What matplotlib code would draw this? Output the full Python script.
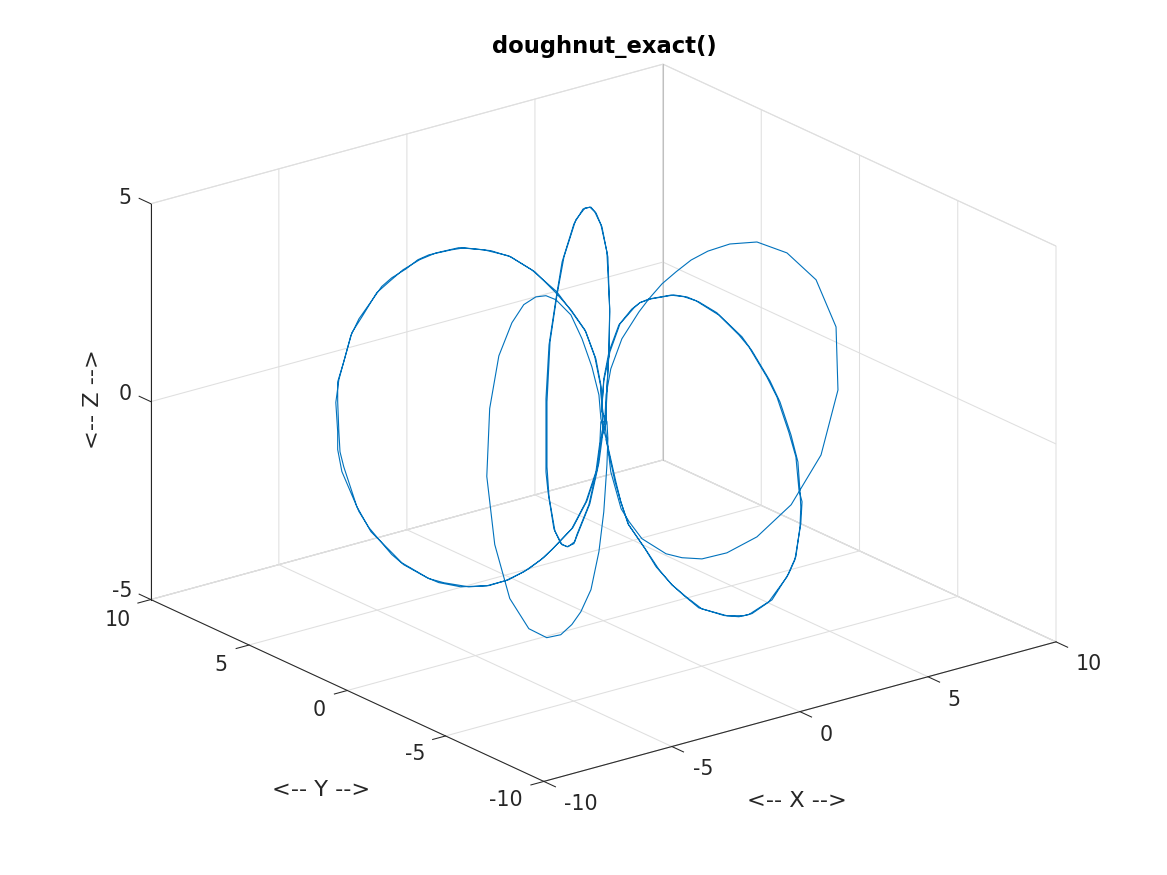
import matplotlib
matplotlib.use('Agg')
import matplotlib.pyplot as plt
from matplotlib.ticker import FixedLocator
from matplotlib.transforms import ScaledTranslation

plt.rcParams['axes.unicode_minus'] = False
plt.rcParams['font.family'] = 'DejaVu Sans'

x_values = [
 -0.04,-0.07,-0.20,-0.47,-0.85,-1.25,-1.92,-2.48,-3.02,-3.74,-4.09,-4.68,-4.98,-5.30,-5.68,-5.95,-6.56,-6.78,-7.10,-7.18,-7.13,-7.13,-7.02,-6.56,-6.29,-5.68,-5.36,-4.74,-4.42,-3.83,-3.13,-2.62,-2.13,-1.68,-1.38,-0.85,-0.47,-0.20,-0.09,-0.07,
 -0.15,-0.21,-0.33,-0.39,-0.21,0.15,0.50,0.80,1.22,1.75,2.47,2.82,3.24,3.42,3.42,3.30,2.94,2.52,2.17,1.75,1.57,0.86,0.33,0.09,
 0.05,0.09,0.25,0.63,1.21,1.55,1.99,2.47,2.98,3.55,4.30,5.22,6.24,7.23,7.91,7.97,7.40,6.38,5.22,4.20,3.35,2.67,2.13,1.31,0.87,0.60,0.25,0.12,
 -0.01,0.00,0.04,0.10,0.18,0.24,0.29,0.43,0.52,0.60,0.74,0.87,0.94,1.05,1.12,1.19,1.24,1.26,1.28,1.27,1.23,1.19,1.09,0.96,0.90,0.80,0.63,0.53,0.44,0.36,0.27,0.16,0.11,0.08,0.02,
 -0.16,-0.29,-0.74,-1.38,-2.09,-3.06,-3.70,-4.35,-5.12,-5.89,-6.73,-7.31,-7.50,-6.99,-6.02,-4.80,-3.64,-2.74,-2.03,-1.45,-0.80,-0.29,0.03,0.23,0.29,0.23,
 -0.04,-0.07,-0.23,-0.50,-0.87,-1.30,-1.84,-2.54,-3.21,-3.88,-4.50,-4.93,-5.38,-5.76,-6.08,-6.48,-6.75,-6.97,-7.13,-7.13,-7.10,-7.07,-6.97,-6.62,-6.24,-5.65,-5.41,-4.68,-4.28,-3.61,-3.07,-2.54,-2.00,-1.60,-1.33,-0.82,-0.44,-0.17,-0.07,
 -0.15,-0.21,-0.33,-0.39,-0.27,0.09,0.45,0.74,1.10,1.63,2.35,2.76,3.18,3.36,3.36,3.24,2.88,2.47,2.11,1.69,1.51,0.80,0.27,0.03,
 -0.01,0.00,0.04,0.11,0.20,0.24,0.31,0.45,0.54,0.61,0.73,0.89,0.96,1.07,1.14,1.21,1.25,1.27,1.27,1.27,1.24,1.18,1.07,0.94,0.87,0.78,0.61,0.52,0.44,0.34,0.27,0.16,0.11,0.07,0.02]
y_values = [
 0.02,0.04,0.12,0.28,0.50,0.74,1.14,1.47,1.79,2.22,2.43,2.78,2.95,3.14,3.37,3.53,3.89,4.02,4.21,4.26,4.23,4.23,4.16,3.89,3.73,3.37,3.18,2.81,2.62,2.27,1.85,1.55,1.27,0.99,0.82,0.50,0.28,0.12,0.06,0.04,
 -0.32,-0.45,-0.71,-0.83,-0.45,0.32,1.09,1.73,2.63,3.78,5.32,6.09,6.99,7.38,7.38,7.12,6.35,5.45,4.68,3.78,3.40,1.86,0.71,0.19,
 -0.01,-0.02,-0.05,-0.12,-0.23,-0.30,-0.39,-0.48,-0.58,-0.69,-0.83,-1.01,-1.21,-1.40,-1.53,-1.55,-1.43,-1.24,-1.01,-0.81,-0.65,-0.52,-0.41,-0.25,-0.17,-0.12,-0.05,-0.02,
 0.06,-0.02,-0.23,-0.66,-1.21,-1.55,-1.93,-2.87,-3.42,-3.93,-4.91,-5.76,-6.18,-6.95,-7.37,-7.88,-8.18,-8.31,-8.44,-8.39,-8.14,-7.88,-7.16,-6.31,-5.97,-5.25,-4.19,-3.51,-2.91,-2.36,-1.81,-1.08,-0.74,-0.53,-0.15,
 -0.08,-0.15,-0.38,-0.71,-1.07,-1.57,-1.90,-2.23,-2.62,-3.02,-3.45,-3.74,-3.84,-3.58,-3.08,-2.46,-1.86,-1.40,-1.04,-0.74,-0.41,-0.15,0.02,0.12,0.15,0.12,
 0.02,0.04,0.14,0.29,0.52,0.77,1.09,1.50,1.90,2.30,2.67,2.92,3.19,3.41,3.61,3.84,4.00,4.13,4.23,4.23,4.21,4.19,4.13,3.92,3.70,3.35,3.21,2.78,2.54,2.14,1.82,1.50,1.19,0.95,0.79,0.49,0.26,0.10,0.04,
 -0.32,-0.45,-0.71,-0.83,-0.58,0.19,0.96,1.60,2.37,3.53,5.07,5.96,6.86,7.25,7.25,6.99,6.22,5.32,4.55,3.66,3.27,1.73,0.58,0.06,
 0.06,-0.02,-0.28,-0.70,-1.30,-1.55,-2.02,-3.00,-3.55,-4.06,-4.82,-5.89,-6.31,-7.08,-7.50,-7.97,-8.27,-8.35,-8.39,-8.35,-8.18,-7.80,-7.03,-6.18,-5.76,-5.12,-4.06,-3.42,-2.91,-2.23,-1.76,-1.04,-0.74,-0.49,-0.11]
z_values = [
 0.36,0.96,1.62,2.32,2.84,3.36,3.94,4.29,4.47,4.57,4.53,4.43,4.32,4.10,3.89,3.68,2.89,2.47,1.37,0.80,0.06,-0.39,-0.95,-1.98,-2.40,-3.10,-3.37,-3.72,-3.86,-3.99,-3.99,-3.88,-3.68,-3.39,-3.15,-2.64,-1.98,-1.23,-0.48,0.03,
 0.13,1.00,2.01,3.14,4.46,4.90,4.99,4.91,4.58,3.85,2.41,1.23,-0.21,-1.69,-3.54,-3.96,-4.66,-4.75,-4.59,-4.23,-3.89,-2.65,-1.28,-0.29,
 0.09,0.70,1.33,2.04,2.64,2.93,3.25,3.49,3.72,3.87,3.95,3.88,3.47,2.66,1.38,-0.22,-1.79,-2.91,-3.57,-3.84,-3.88,-3.76,-3.59,-3.10,-2.61,-2.25,-1.27,-0.42,
 0.44,1.12,1.84,2.61,3.12,3.35,3.52,3.81,3.88,3.88,3.72,3.39,3.17,2.57,2.15,1.37,0.80,-0.01,-0.28,-0.85,-1.81,-2.21,-3.02,-3.54,-3.66,-3.81,-3.85,-3.68,-3.50,-3.23,-2.84,-2.36,-1.84,-1.38,-0.45,
 0.15,0.79,1.63,2.53,3.34,4.01,4.30,4.46,4.49,4.26,3.67,2.51,0.85,-1.02,-2.67,-3.79,-4.36,-4.55,-4.50,-4.35,-3.98,-3.17,-2.26,-1.13,-0.49,-0.04,
 0.28,0.91,1.68,2.37,2.89,3.36,3.89,4.32,4.50,4.58,4.47,4.32,4.08,3.79,3.53,2.94,2.55,1.82,1.32,0.82,0.06,-0.45,-0.83,-1.85,-2.50,-3.08,-3.32,-3.75,-3.87,-4.00,-3.99,-3.86,-3.61,-3.34,-3.10,-2.62,-1.95,-1.18,-0.43,
 0.07,0.95,1.96,3.06,4.37,4.89,5.00,4.95,4.69,4.03,2.61,1.37,-0.09,-1.73,-3.37,-4.05,-4.67,-4.74,-4.55,-4.14,-3.82,-2.58,-1.19,-0.25,
 0.39,1.06,1.85,2.64,3.17,3.35,3.54,3.84,3.90,3.88,3.76,3.37,3.10,2.50,2.05,1.31,0.69,-0.05,-0.42,-0.93,-1.72,-2.31,-3.09,-3.59,-3.73,-3.83,-3.85,-3.67,-3.50,-3.18,-2.82,-2.34,-1.84,-1.37,-0.41]

x_ticks = [-10, -5, 0, 5, 10]
y_ticks = [-10, -5, 0, 5, 10]
z_ticks = [-5, 0, 5]

W, H = 1167, 875
S = 977.0
fig = plt.figure(figsize=(W/100, H/100), dpi=100)
ax = fig.add_axes([101.7/W, -49.5/H, S/W, S/H], projection='3d', proj_type='ortho', computed_zorder=False)
ax.view_init(elev=20.8, azim=-127.5)
ax.set_box_aspect((645, 645, 423))
ax.set_xlim(-10, 10); ax.set_ylim(-10, 10); ax.set_zlim(-5, 5)
ax.xaxis.set_major_locator(FixedLocator(x_ticks))
ax.yaxis.set_major_locator(FixedLocator(y_ticks))
ax.zaxis.set_major_locator(FixedLocator(z_ticks))
ax.zaxis._get_tickdir = lambda pos: 1

DARK = '#262626'
GRID = '#dfdfdf'
for a, tick_in, tick_out in ((ax.xaxis, 0.37, 0.0), (ax.yaxis, 0.315, 0.0), (ax.zaxis, 0.0, 0.37)):
    a.set_pane_color((1, 1, 1, 1))
    a.pane.set_edgecolor(GRID)
    a.pane.set_linewidth(0.75)
    a.line.set_color(DARK)
    a.line.set_linewidth(0.75)
    a._axinfo['grid'].update(color=GRID, linewidth=0.75)
    a._axinfo['tick'].update(inward_factor=tick_in, outward_factor=tick_out, linewidth={True: 0.75, False: 0.5})
    a._axinfo['axisline'].update(color=DARK, linewidth=0.75)
    a.set_rotate_label(False)
ax.zaxis.pane.set_edgecolor('#c0c0c0')
for name in 'xyz':
    ax.tick_params(axis=name, pad=8, labelsize=14.8, labelcolor=DARK, color=DARK, width=0.75)


def shift_labels(axis, shifts):
    original = axis.get_major_ticks

    def patched(numticks=None):
        ticks = original(numticks)
        for t, (dx, dy) in zip(ticks, shifts):
            t.label1.set_transform(ax.transData + ScaledTranslation(dx/100, dy/100, fig.dpi_scale_trans))
        return ticks
    axis.get_major_ticks = patched


def shift_axis_label(axis, dx, dy):
    label = axis.label
    original = label.draw
    offset = ax.transData + ScaledTranslation(dx/100, dy/100, fig.dpi_scale_trans)

    def patched(renderer):
        label._transform = offset
        original(renderer)
    label.draw = patched


shift_labels(ax.xaxis, [(20, 13), (14, 13), (9, 12), (9, 12), (16, 13)])
shift_labels(ax.yaxis, [(-16, 15), (-8, 15), (-6, 14), (-6, 13), (-11, 13)])
shift_labels(ax.zaxis, [(11, 17), (14, 16), (14, 14)])

ax.set_xlabel('<-- X -->', fontsize=16.2, color=DARK, rotation=0, labelpad=22)
ax.set_ylabel('<-- Y -->', fontsize=16.2, color=DARK, rotation=0, labelpad=22)
ax.set_zlabel('<-- Z -->', fontsize=16.2, color=DARK, rotation=90, labelpad=22)
shift_axis_label(ax.xaxis, -49, -22)
shift_axis_label(ax.yaxis, 34, -37)
shift_axis_label(ax.zaxis, 48, -2)

ax.plot([10, 10], [10, 10], [-5, 5], color='#c0c0c0', lw=0.75)
ax.plot(x_values, y_values, z_values, color='#0072BD', lw=0.8)
fig.suptitle('doughnut_exact()', fontsize=16.3, fontweight='bold', color='black', x=604/W, y=1-47/H, va='center')
fig.savefig('out.png', dpi=100)
